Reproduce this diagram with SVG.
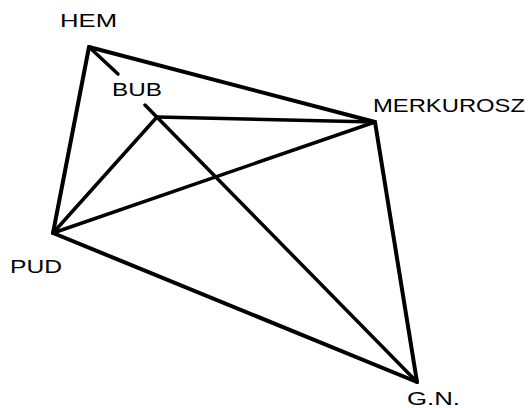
<svg xmlns="http://www.w3.org/2000/svg" width="530" height="408" viewBox="0 0 530 408">
<style>
.e{stroke:#000;stroke-width:4;stroke-linecap:round;fill:none}
.i{stroke-width:3.5}
.t{font-family:"Liberation Sans",Arial,sans-serif;font-size:18px;fill:#000}
</style>
<rect width="530" height="408" fill="#fff"/>
<g id="connectors">
<line class="e" x1="89" y1="47" x2="375" y2="122"/>
<line class="e" x1="89" y1="47" x2="53" y2="233"/>
<line class="e i" x1="89" y1="47" x2="118" y2="74"/>
<line class="e i" x1="157" y1="117" x2="375" y2="122"/>
<line class="e i" x1="145" y1="105" x2="417" y2="382"/>
<line class="e i" x1="53" y1="233" x2="157" y2="117"/>
<line class="e i" x1="53" y1="233" x2="375" y2="122"/>
<line class="e" x1="53" y1="233" x2="417" y2="382"/>
<line class="e" x1="375" y1="122" x2="417" y2="382"/>
</g>
<g id="HEM"><text class="t" x="60" y="27" textLength="57" lengthAdjust="spacingAndGlyphs">HEM</text></g>
<g id="BUB"><text class="t" x="112" y="96" textLength="50" lengthAdjust="spacingAndGlyphs">BUB</text></g>
<g id="MERKUROSZ"><text class="t" x="373" y="112" textLength="152" lengthAdjust="spacingAndGlyphs">MERKUROSZ</text></g>
<g id="PUD"><text class="t" x="10" y="273" textLength="52" lengthAdjust="spacingAndGlyphs">PUD</text></g>
<g id="GN"><text class="t" x="407" y="405" textLength="53" lengthAdjust="spacingAndGlyphs">G.N.</text></g>
</svg>
